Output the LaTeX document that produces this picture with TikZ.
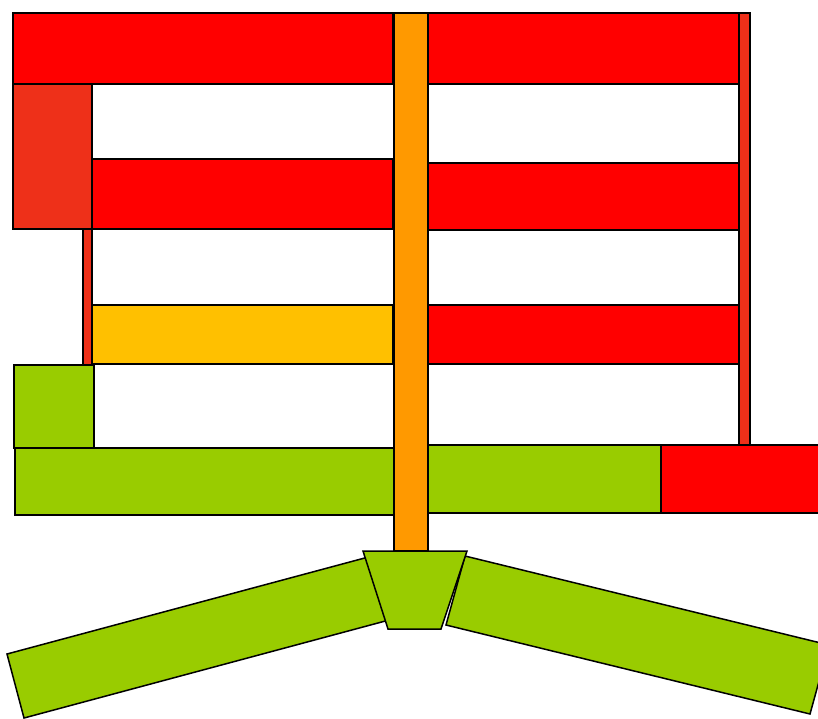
\documentclass[tikz,border=0pt]{standalone}
\definecolor{cred}{RGB}{255,0,0}
\definecolor{cdark}{RGB}{238,48,25}
\definecolor{cyel}{RGB}{255,192,0}
\definecolor{corg}{RGB}{255,153,0}
\definecolor{cgrn}{RGB}{153,204,0}
\begin{document}
\begin{tikzpicture}[x=1pt,y=-1pt,
  part/.style={draw=black,line width=1.5pt,line join=miter}]
\useasboundingbox (0,0) rectangle (818,718);
\clip (0,0) rectangle (818,718);
% thin verticals
\fill[part,fill=cdark] (739,13) rectangle (750,445);
\fill[part,fill=cdark] (83,229) rectangle (92,365);
% left column
\filldraw[part,fill=cred] (13,13) rectangle (393,84);
\filldraw[part,fill=cdark] (13,84) rectangle (92,229);
\filldraw[part,fill=cred] (92,159) rectangle (393,229);
\filldraw[part,fill=cyel] (92,305) rectangle (393,364);
\filldraw[part,fill=cgrn] (14,365) rectangle (94,448);
\filldraw[part,fill=cgrn] (15,448) rectangle (394,515);
% right column
\filldraw[part,fill=cred] (428,13) rectangle (739,84);
\filldraw[part,fill=cred] (428,163) rectangle (739,230);
\filldraw[part,fill=cred] (428,305) rectangle (739,364);
\filldraw[part,fill=cgrn] (428,445) rectangle (661,513);
\filldraw[part,fill=cred] (661,445) rectangle (840,513);
% centre post
\filldraw[part,fill=corg] (394,13) rectangle (428,551);
% slanted legs
\filldraw[part,fill=cgrn] (7,654) -- (24,718) -- (404,616) -- (387,552) -- cycle;
\filldraw[part,fill=cgrn] (465,556) -- (446,625) -- (810,714) -- (829,645) -- cycle;
% foot
\filldraw[part,fill=cgrn] (363,551) -- (467,551) -- (441,629) -- (388,629) -- cycle;
\end{tikzpicture}
\end{document}
